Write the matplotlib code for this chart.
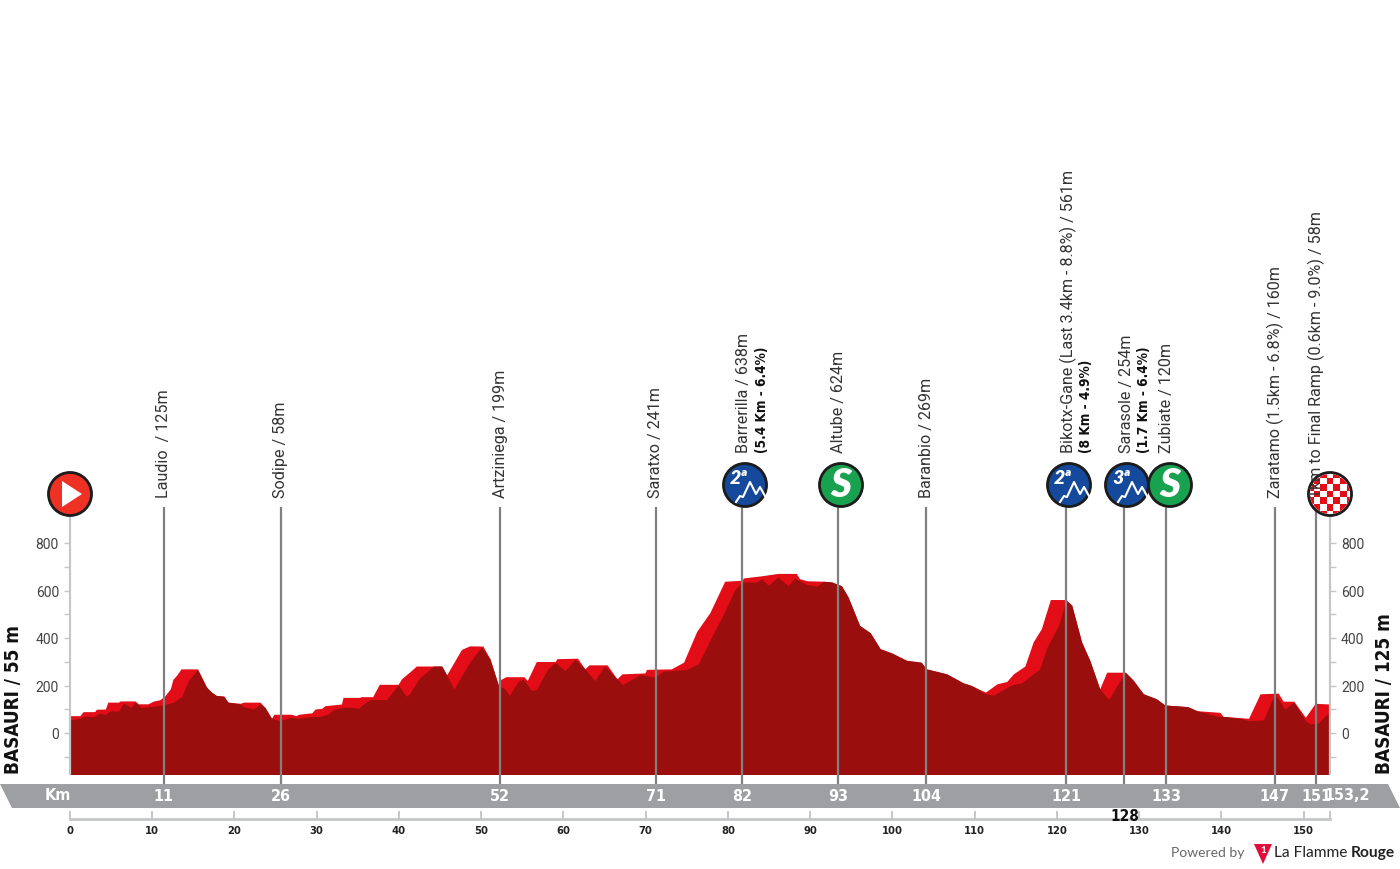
import matplotlib
matplotlib.use("Agg")
import matplotlib.pyplot as plt
from matplotlib.patches import Circle, Polygon, Rectangle

# ---------- data ----------
dark_km = [0,1.2,1.6,3.0,3.6,4.3,4.9,5.9,6.5,7.4,7.9,8.7,10.1,11.3,12.6,13.6,14.4,15.5,16.6,17.2,17.8,18.7,19.2,20.7,21.1,22.3,23.1,23.7,24.5,25.5,26.8,27.8,29.2,30.4,31.4,32.0,33.2,34.5,35.1,35.5,36.5,38.5,39.9,40.9,41.3,42.4,44.2,45.2,46.7,48.6,50.0,51.05,52.1,52.9,53.4,54.5,55.1,56.1,56.7,58.1,59,60.2,61.4,62.6,63.8,65.0,66.5,67.2,69.3,71.1,72.1,75,76.4,78.2,79.4,80.8,81.7,83.5,84.1,84.9,86.1,87.3,88.1,89.6,90.8,91.6,92.6,93.8,94.6,96,97.3,98.5,99.9,101.7,103.5,104.1,104.6,106.6,108.6,109.6,111.3,112.3,114.5,115.7,117.9,118.8,120.2,121.1,121.8,123,124,125.2,126.3,127.3,128.3,129.3,130.5,132.1,133.1,135.9,137,139.6,140.2,142.3,143.3,145.1,146.5,147.7,148.8,150.2,150.8,151.8,152.4,153.2]
dark_m = [55,62,70,70,84,79,94,92,127,108,130,107,113,118,130,155,221,268,193,172,158,155,130,122,111,101,122,108,62,52,66,62,69,70,80,99,108,108,104,118,141,141,203,155,165,228,282,282,186,298,362,313,200,186,158,217,228,179,183,270,298,263,310,270,221,282,228,204,246,235,260,268,291,418,496,601,636,636,650,622,657,620,653,625,618,639,636,620,573,453,422,355,337,306,298,270,266,249,211,200,165,160,203,211,270,362,453,559,538,383,305,186,141,200,256,221,165,144,118,111,94,70,70,62,52,55,165,101,130,52,38,42,66,87]
bright_km = [0,1.2,1.6,3.0,3.2,4.3,4.6,5.9,6.1,7.9,8.3,9.5,10.1,10.9,11.5,12.2,12.5,13.0,13.5,15.5,16.6,17.2,17.8,18.7,19.2,20.7,21.1,23.1,23.7,24.5,24.8,26.9,27.5,27.8,29.4,29.8,30.6,31.0,33.0,33.2,35.2,35.4,36.8,37.6,39.9,40.3,41.5,42.1,45.2,45.8,47.6,48.6,50.2,51.05,52.1,52.35,53,55.2,55.6,56.7,59,59.2,61.7,62.6,63.1,65.3,66.5,67.1,69.9,70.1,73.1,74.6,76.2,77.8,79.6,81.7,81.9,84.1,86.1,88.3,88.7,89.6,91.6,92.6,93.8,94.6,96,97.3,98.5,99.9,101.7,103.5,104.1,104.6,106.6,108.6,109.6,111.3,112.7,113.9,114.7,116.1,117.1,118.1,119.2,121.1,121.8,123,124,125.2,126.05,128.3,129.3,130.5,132.1,133.1,135.9,137,139.8,140.2,143.3,144.7,146.9,147.5,148.8,150.2,151.4,153.2]
bright_m = [73,73,90,90,100,101,130,130,135,135,123,123,134,140,155,186,225,245,270,270,193,172,158,155,130,125,130,130,108,62,79,79,73,79,85,101,104,115,122,150,150,153,153,205,205,228,263,282,282,245,352,367,366,313,200,225,237,237,221,301,301,313,315,270,287,287,228,249,253,268,270,298,428,507,639,643,653,662,672,672,650,641,639,636,620,573,453,422,355,337,306,298,270,266,249,211,200,172,207,217,249,282,383,439,562,562,538,383,305,186,256,256,221,165,144,118,111,94,87,70,62,165,168,134,134,66,125,122]
y_major = [0,200,400,600,800]
y_minor = [-100,100,300,500,700]
km_ticks = [0,10,20,30,40,50,60,70,80,90,100,110,120,130,140,150]
point_km = [11.4,25.6,52.3,71.25,81.7,93.4,104.1,121.1,128.2,133.3,146.5,151.5]
point_lab = ["11","26","52","71","82","93","104","121","128","133","147","151"]
names = ["Laudio  / 125m","Sodipe / 58m","Artziniega / 199m","Saratxo / 241m","Barrerilla / 638m","Altube / 624m","Baranbio / 269m","Bikotx-Gane (Last 3.4km - 8.8%) / 561m","Sarasole / 254m","Zubiate / 120m","Zaratamo (1.5km - 6.8%) / 160m","1km to Final Ramp (0.6km - 9.0%) / 58m"]
bold_names = {4:"(5.4 Km - 6.4%)",7:"(8 Km - 4.9%)",8:"(1.7 Km - 6.4%)"}
total_km = 153.2

# ---------- fonts ----------
narrow_kw = dict(fontfamily="DejaVu Sans", fontstretch="condensed", fontweight="bold")
thin_kw = dict(fontfamily="Roboto", fontweight="normal")

W, H = 1400, 870
fig = plt.figure(figsize=(14, 8.7), dpi=100, facecolor="white")

def axes_px(l, t, r, b, **kw):
    return fig.add_axes([l/W, 1-b/H, (r-l)/W, (b-t)/H], **kw)

GREY = "#c4c6c8"
ax = axes_px(70, 515, 1330, 775)
ax.set_xlim(0, total_km)
px_m = 0.2375
ax.set_ylim((734-775)/px_m, (734-515)/px_m)
ax.fill_between(bright_km, bright_m, -400, color="#e30d18", lw=0)
ax.fill_between(dark_km, dark_m, -400, color="#9a0f0d", lw=0)
ax.set_xticks([])
ax.set_yticks(y_major)
ax.set_yticks(y_minor, minor=True)
ax.tick_params(axis="y", which="major", length=4, width=1, color=GREY, labelsize=10, pad=4,
               left=True, right=True, labelleft=True, labelright=True, labelcolor="#444444")
ax.tick_params(axis="y", which="minor", length=4, width=1, color=GREY, left=True, right=True)
for t in ax.get_yticklabels():
    t.set_fontfamily("Roboto")
for s in ("top", "bottom"):
    ax.spines[s].set_visible(False)
for s in ("left", "right"):
    ax.spines[s].set_color(GREY)
    ax.spines[s].set_linewidth(1.6)
ax.patch.set_alpha(0)

ax2 = axes_px(70, 813, 1330, 819.5)
ax2.set_xlim(0, total_km)
ax2.set_ylim(0, 1)
ax2.patch.set_alpha(0)
ax2.set_yticks([])
ax2.set_xticks(km_ticks + [total_km])
ax2.set_xticklabels([str(k) for k in km_ticks] + [""], fontsize=8, color="#222222", **narrow_kw)
ax2.tick_params(axis="x", direction="in", length=5.5, width=1.4, color=GREY, pad=5)
for s in ("top", "left", "right"):
    ax2.spines[s].set_visible(False)
ax2.spines["bottom"].set_color(GREY)
ax2.spines["bottom"].set_linewidth(2)

ov = fig.add_axes([0, 0, 1, 1], zorder=5)
ov.set_xlim(0, W)
ov.set_ylim(H, 0)
ov.axis("off")
ov.patch.set_alpha(0)

def X(km):
    return 70 + km * 1260 / total_km

ov.add_patch(Polygon([(0,785),(1388,785),(1400,809),(12,809)], color="#9d9fa2", lw=0, zorder=1))
ov.text(58, 796, "Km", color="white", fontsize=11.5, ha="center", va="center", zorder=2, **narrow_kw)
for i, (km, lab, nm) in enumerate(zip(point_km, point_lab, names)):
    x = X(km)
    icon = i in (4, 5, 7, 8, 9)
    ov.plot([x, x], [486 if icon else 508, 785], color="#808080", lw=1.6, zorder=2, solid_capstyle="butt")
    if lab == "128":
        ov.text(x, 817, lab, color="#111111", fontsize=11, ha="center", va="center", zorder=6, **narrow_kw)
    else:
        ov.text(x, 797, lab, color="white", fontsize=11.5, ha="center", va="center", zorder=3, **narrow_kw)
    bottom = 453 if icon else 498
    tx = x + (2 if i in (4, 7, 8) else 0)
    ov.text(tx, bottom, nm, rotation=90, ha="center", va="bottom", fontsize=11.6, color="#333333",
            zorder=12 if i == 11 else 3, **thin_kw)
    if i in bold_names:
        ov.text(tx + 18, bottom, bold_names[i], rotation=90, ha="center", va="bottom",
                fontsize=9.8, color="#111111", zorder=3, **narrow_kw)
ov.text(1347, 796, "153,2", color="white", fontsize=11.5, ha="center", va="center", zorder=3, **narrow_kw)

ov.text(14, 774, "BASAURI / 55 m", rotation=90, ha="center", va="bottom", fontsize=13.6, color="#111111", **narrow_kw)
ov.text(1384, 774, "BASAURI / 125 m", rotation=90, ha="center", va="bottom", fontsize=13.6, color="#111111", **narrow_kw)

def disc(cx, cy, color, r=21.5):
    ov.add_patch(Circle((cx, cy), r + 1.2, color="#bbbbbb", lw=0, zorder=8))
    ov.add_patch(Circle((cx, cy), r, facecolor=color, edgecolor="#1c1c1c", lw=2, zorder=9))

def climb(cx, cy, cat):
    disc(cx, cy, "#14499c")
    ov.text(cx - 6, cy - 7, cat, color="white", fontfamily="Lato", fontweight="heavy", style="italic",
            fontsize=14, ha="center", va="center", zorder=10)
    ov.plot([cx-9, cx-5, cx-2, cx+5, cx+11, cx+15, cx+20], [cy+17, cy+11, cy+12, cy-3, cy+9, cy+2, cy+11],
            color="white", lw=1.5, zorder=10)

def sprint(cx, cy):
    disc(cx, cy, "#18a24f")
    ov.text(cx, cy, "S", color="white", fontfamily="Lato", fontweight="heavy", style="italic",
            fontsize=29, ha="center", va="center", zorder=10)

disc(70, 495, "#ee3124")
ov.add_patch(Polygon([(62,482),(62,508),(82,495)], color="white", lw=0, zorder=10))
climb(745, 486, "2ª")
sprint(841, 486)
climb(1069, 486, "2ª")
climb(1127, 486, "3ª")
sprint(1170, 486)

fx, fy = 1330, 495
disc(fx, fy, "white")
clip = Circle((fx, fy), 20, transform=ov.transData)
step = 6.6
for r in range(-3, 4):
    for c in range(-3, 4):
        if (r + c) % 2 == 0:
            q = Rectangle((fx + c*step - step/2, fy + r*step - step/2), step, step, color="#e30d18", lw=0, zorder=10)
            ov.add_patch(q)
            q.set_clip_path(clip)

ov.text(1208, 853, "Powered by", fontfamily="Lato", fontsize=10, color="#666666", ha="center", va="center")
ov.add_patch(Polygon([(1254,845),(1272,845),(1263,865)], color="#e30d3c", lw=0))
ov.text(1263, 851, "1", fontfamily="Lato", fontsize=7, fontweight="bold", color="white", ha="center", va="center")
ov.text(1274, 853, "La Flamme", fontfamily="Lato", fontsize=11.2, color="#222222", ha="left", va="center")
ov.text(1395, 853, "Rouge", fontfamily="Lato", fontsize=11.2, fontweight="bold", color="#222222", ha="right", va="center")

fig.savefig("out.png", dpi=100)
